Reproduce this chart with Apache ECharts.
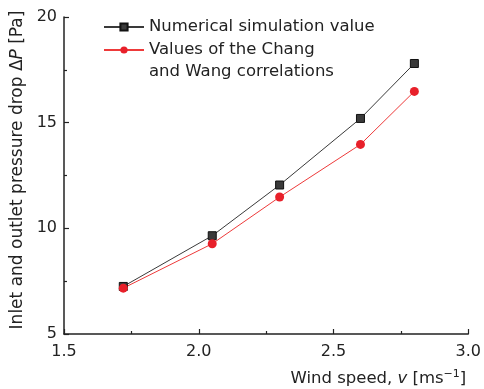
<!DOCTYPE html>
<html><head><meta charset="utf-8">
<script src="https://cdn.jsdelivr.net/npm/echarts@6/dist/echarts.min.js"></script>
<style>html,body{margin:0;padding:0;background:#fff}#c{width:484px;height:389px}</style>
</head><body><div id="c"></div>
<script>
var windSpeed = [1.72, 2.05, 2.30, 2.60, 2.80];
var simulation = [7.25, 9.65, 12.05, 15.2, 17.8];
var changWang = [7.17, 9.27, 11.48, 13.97, 16.48];
var xTicks = ['1.5', '2.0', '2.5', '3.0'];
var yTicks = ['5', '10', '15', '20'];
var seriesNames = ['Numerical simulation value', 'Values of the Chang and Wang correlations'];

var FONT = 'DejaVu Sans';
var chart = echarts.init(document.getElementById('c'), null, {renderer: 'canvas'});
function pairs(xs, ys){ return xs.map(function(x,i){ return [x, ys[i]]; }); }
chart.setOption({
  animation: false,
  backgroundColor: '#fff',
  textStyle: {fontFamily: FONT},
  grid: {left: 64, right: 15, top: 17, bottom: 55},
  legend: {
    orient: 'vertical', left: 103, top: 16, padding: 0, itemWidth: 40, itemHeight: 9, itemGap: -21,
    textStyle: {fontFamily: FONT, fontSize: 16.5, color: '#222', lineHeight: 22},
    formatter: function(name){
      return name === seriesNames[1] ? '\nValues of the Chang\nand Wang correlations' : name;
    },
    data: [{name: seriesNames[0]}, {name: seriesNames[1]}]
  },
  xAxis: {
    type: 'value', min: 1.5, max: 3.0, interval: 0.5,
    axisLine: {lineStyle: {color: '#222', width: 1.5}},
    axisTick: {inside: true, length: 5, lineStyle: {color: '#222', width: 1.2}},
    minorTick: {show: true, splitNumber: 2, length: 3, lineStyle: {color: '#222', width: 1.2}},
    splitLine: {show: false},
    axisLabel: {fontFamily: FONT, fontSize: 16, color: '#222', margin: 10,
      formatter: function(v){ return xTicks[Math.round((v - 1.5) / 0.5)]; }},
    name: '{n|Wind speed, }{i|v}{n| [ms}{s|−1}{n|]}',
    nameLocation: 'end', nameGap: -2,
    nameTextStyle: {align: 'right', verticalAlign: 'top', padding: [35, 0, 0, 0],
      rich: {
        n: {fontFamily: FONT, fontSize: 16.5, color: '#222'},
        i: {fontFamily: FONT, fontSize: 16.5, color: '#222', fontStyle: 'italic'},
        s: {fontFamily: FONT, fontSize: 11, color: '#222', padding: [0, 0, 8, 0]}
      }}
  },
  yAxis: {
    type: 'value', min: 5, max: 20, interval: 5,
    axisLine: {show: true, lineStyle: {color: '#222', width: 1.5}},
    axisTick: {show: true, inside: true, length: 5, lineStyle: {color: '#222', width: 1.2}},
    minorTick: {show: true, splitNumber: 2, length: 3, lineStyle: {color: '#222', width: 1.2}},
    splitLine: {show: false},
    axisLabel: {fontFamily: FONT, fontSize: 16, color: '#222', margin: 7,
      formatter: function(v){ return yTicks[Math.round((v - 5) / 5)]; }},
    name: '{n|Inlet and outlet pressure drop Δ}{i|P}{n| [Pa]}',
    nameLocation: 'middle', nameGap: 29,
    nameTextStyle: {padding: [0, 0, 0, 11], rich: {
      n: {fontFamily: FONT, fontSize: 17, color: '#222'},
      i: {fontFamily: FONT, fontSize: 17, color: '#222', fontStyle: 'italic'}
    }}
  },
  series: [
    {name: seriesNames[0], type: 'line', data: pairs(windSpeed, simulation),
      symbol: 'rect', symbolSize: 8,
      lineStyle: {color: '#3a3a3a', width: 1},
      itemStyle: {color: '#3a3a3a', borderColor: '#111', borderWidth: 1}},
    {name: seriesNames[1], type: 'line', data: pairs(windSpeed, changWang),
      symbol: 'circle', symbolSize: 9,
      lineStyle: {color: '#ee3a3a', width: 1},
      itemStyle: {color: '#e8202a', borderColor: '#e8202a', borderWidth: 0}}
  ]
});
</script></body></html>
